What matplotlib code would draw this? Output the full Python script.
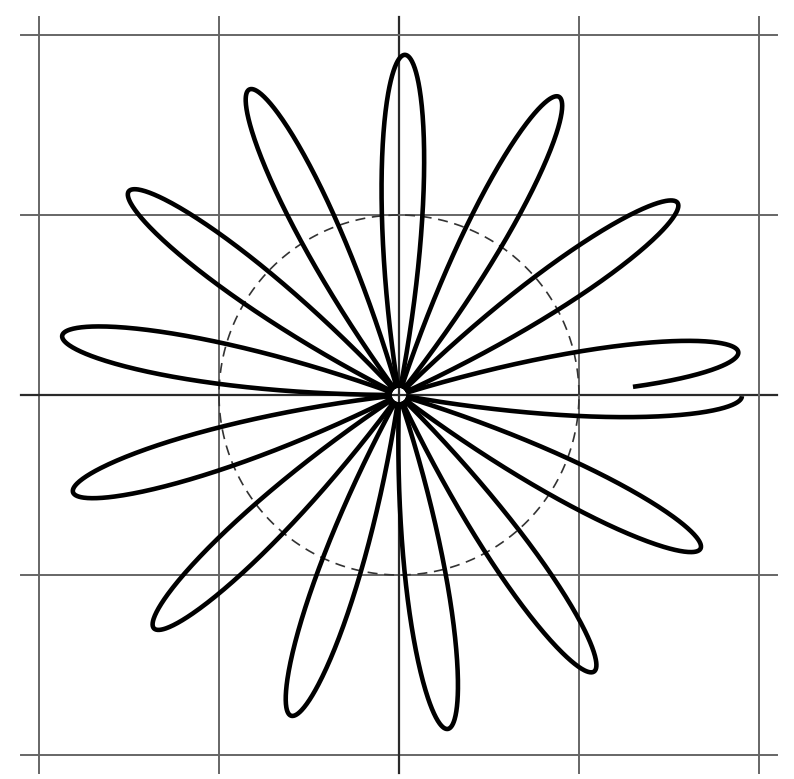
import numpy as np
import matplotlib
matplotlib.use("Agg")
import matplotlib.pyplot as plt

# petal tips (degrees, units)
petal_angles = [7.2, 34.6, 61.8, 89.0, 116.1, 143.0, 170.0, 196.6, 223.6, 251.4, 278.3, 305.2, 333.0, 359.8]
petal_lengths = [1.90, 1.88, 1.88, 1.89, 1.89, 1.88, 1.90, 1.89, 1.88, 1.88, 1.875, 1.88, 1.88, 1.905]
petal_half_width = 10.0   # degrees from tip to the centre on each side
start_angle = 2.0         # curve begins part way along the first petal
# last petal stops at its tip
centre_gap = 0.035        # the pen lifts just before the origin

grid_vals = [-2, -1, 0, 1, 2]
circle_radius = 1.0

fig = plt.figure(figsize=(7.94, 7.79), dpi=100)
ax = fig.add_axes([0, 0, 1, 1])

# grid
for g in grid_vals:
    if g == 0:
        c, lw = "#2a2a2a", 1.6
    else:
        c, lw = "#666666", 1.4
    ax.plot([-2.1, 2.1], [g, g], color=c, lw=lw, zorder=1)
    ax.plot([g, g], [-2.1, 2.1], color=c, lw=lw, zorder=1)

# dashed unit circle
t = np.linspace(0, 2 * np.pi, 400)
ax.plot(circle_radius * np.cos(t), circle_radius * np.sin(t), color="#333333",
        lw=1.2, dashes=(6, 4), zorder=2)

# rose curve, petal by petal
n = len(petal_angles)
for i in range(n):
    c = petal_angles[i]
    L = petal_lengths[i]
    a0 = c - petal_half_width
    a1 = c + petal_half_width
    if i == 0:
        a0 = start_angle
    if i == n - 1:
        a1 = c
    th = np.linspace(a0, a1, 300)
    r = L * np.cos(np.radians((th - c) / petal_half_width * 90.0))
    keep = r > centre_gap
    th, r = th[keep], r[keep]
    ax.plot(r * np.cos(np.radians(th)), r * np.sin(np.radians(th)),
            color="black", lw=3.3, solid_capstyle="butt",
            solid_joinstyle="round", zorder=3)

ax.set_xlim(-399 / 180, 395 / 180)
ax.set_ylim(-384 / 180, 395 / 180)
ax.axis("off")

fig.savefig("out.png", dpi=100, facecolor="white")
